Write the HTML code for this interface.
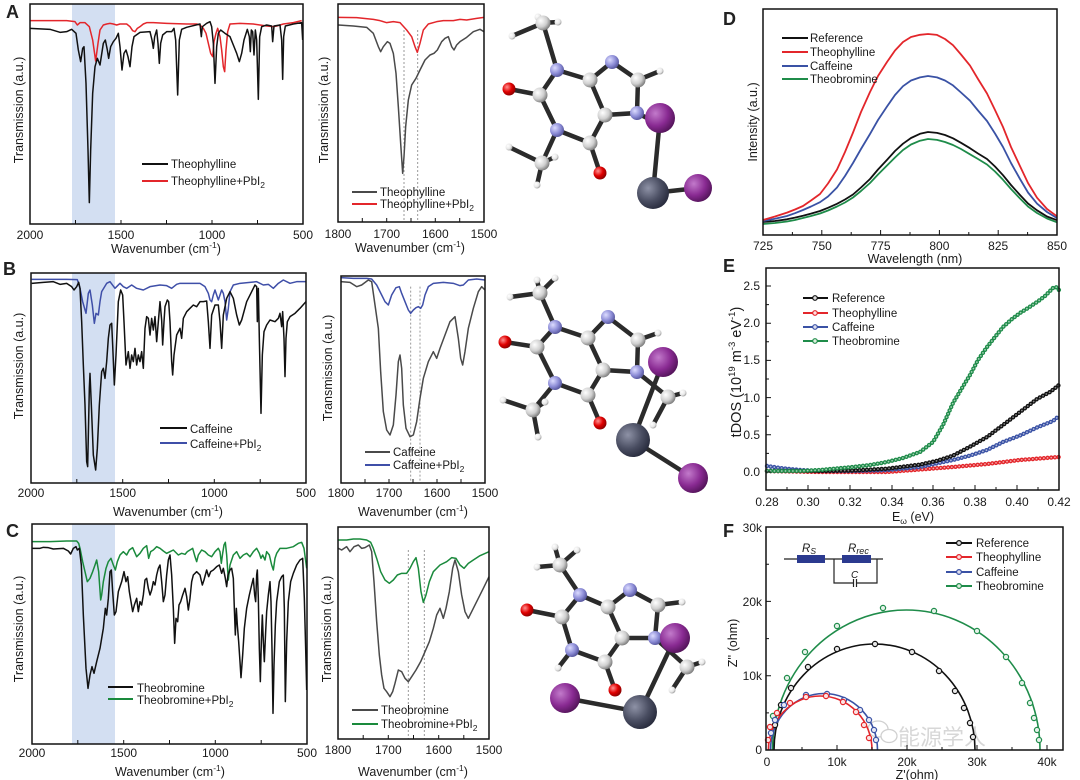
<!DOCTYPE html>
<html><head><meta charset="utf-8"><style>
html,body{margin:0;padding:0;background:#fff}
svg{display:block}
text{font-family:"Liberation Sans",Arial,sans-serif;fill:#1a1a1a}
.tk{font-size:12px}
.lb{font-size:12.5px}
.lg{font-size:11.5px}
.pl{font-size:18px;font-weight:bold;fill:#222}
.fr{fill:none;stroke:#111;stroke-width:1.5}
.tick{stroke:#111;stroke-width:1;fill:none}
.bd{stroke:#2b2b2b;stroke-width:4.5;stroke-linecap:round}
</style></head><body>
<svg width="1080" height="780" viewBox="0 0 1080 780" xmlns="http://www.w3.org/2000/svg">
<defs>
<radialGradient id="gC" cx="0.35" cy="0.35" r="0.75"><stop offset="0" stop-color="#ffffff"/><stop offset="0.55" stop-color="#cfcfcf"/><stop offset="1" stop-color="#6a6a6a"/></radialGradient>
<radialGradient id="gN" cx="0.35" cy="0.35" r="0.75"><stop offset="0" stop-color="#dcdcff"/><stop offset="0.55" stop-color="#8c8cd6"/><stop offset="1" stop-color="#4a4a90"/></radialGradient>
<radialGradient id="gO" cx="0.35" cy="0.35" r="0.75"><stop offset="0" stop-color="#ff9090"/><stop offset="0.5" stop-color="#e00000"/><stop offset="1" stop-color="#7a0000"/></radialGradient>
<radialGradient id="gH" cx="0.35" cy="0.35" r="0.75"><stop offset="0" stop-color="#ffffff"/><stop offset="0.6" stop-color="#e6e6e6"/><stop offset="1" stop-color="#8a8a8a"/></radialGradient>
<radialGradient id="gI" cx="0.35" cy="0.35" r="0.75"><stop offset="0" stop-color="#c27acb"/><stop offset="0.55" stop-color="#892a92"/><stop offset="1" stop-color="#4a1050"/></radialGradient>
<radialGradient id="gP" cx="0.35" cy="0.35" r="0.75"><stop offset="0" stop-color="#8e92a6"/><stop offset="0.55" stop-color="#4a4e62"/><stop offset="1" stop-color="#222536"/></radialGradient>
</defs>
<rect width="1080" height="780" fill="#fff"/>

<!-- ================= PANEL A LEFT ================= -->
<g transform="scale(0.33333)">
<rect x="216" y="12" width="129" height="660" fill="#d3dff2"/>
<polyline fill="none" stroke="#e3262b" stroke-width="4.5" stroke-linejoin="round" points="90,62 200,62 225,65 232,75 240,68 255,68 268,80 278,120 287,183 294,130 300,90 310,75 320,72 330,70 340,72 350,75 360,72 380,72 390,80 398,92 405,95 412,85 420,80 430,72 440,68 460,68 500,70 560,72 590,72 600,75 610,85 618,100 625,130 632,160 638,170 642,125 648,100 653,85 660,110 665,150 670,200 674,215 678,150 683,95 690,72 720,70 760,72 800,78 820,80 830,78 850,72 880,68 905,62"/>
<polyline fill="none" stroke="#111" stroke-width="4.5" stroke-linejoin="round" points="90,85 150,88 180,97 200,95 215,88 228,100 235,150 242,185 248,145 252,140 258,250 264,450 268,608 272,450 278,280 285,200 292,175 300,195 310,130 316,120 322,150 326,175 332,140 340,125 348,115 355,100 360,140 366,210 372,160 378,150 384,170 390,200 396,140 402,110 420,97 450,95 456,120 460,145 464,110 470,90 474,130 478,190 482,130 488,105 500,95 515,95 522,85 527,120 533,285 538,120 545,88 560,82 600,72 604,110 607,80 620,70 630,65 635,80 640,130 645,250 650,140 655,100 662,90 675,100 690,110 700,135 710,160 718,185 725,160 732,120 742,88 748,110 751,155 754,90 758,95 762,165 766,90 770,120 775,298 779,110 785,80 800,75 815,78 818,125 822,78 840,75 845,120 848,238 851,110 856,78 880,72 905,68 908,120"/>
</g>
<rect class="fr" x="30" y="4" width="273" height="220"/>
<path class="tick" d="M75.5,224v-4M121,224v-4M166.5,224v-4M212,224v-4M257.5,224v-4"/>
<text class="tk" x="30" y="239" text-anchor="middle">2000</text>
<text class="tk" x="121" y="239" text-anchor="middle">1500</text>
<text class="tk" x="212" y="239" text-anchor="middle">1000</text>
<text class="tk" x="303" y="239" text-anchor="middle">500</text>
<text class="lb" x="166" y="253" text-anchor="middle">Wavenumber (cm<tspan dy="-5" font-size="8.5">-1</tspan><tspan dy="5">)</tspan></text>
<text class="lb" transform="translate(23,110) rotate(-90)" text-anchor="middle">Transmission (a.u.)</text>
<line x1="142" y1="164" x2="168" y2="164" stroke="#111" stroke-width="2"/>
<line x1="142" y1="181" x2="168" y2="181" stroke="#e3262b" stroke-width="2"/>
<text class="lg" x="171" y="168">Theophylline</text>
<text class="lg" x="171" y="185">Theophylline+PbI<tspan dy="3" font-size="8.5">2</tspan></text>
<text class="pl" x="6" y="18">A</text>

<!-- ================= PANEL A MIDDLE ================= -->
<g transform="translate(310,0) scale(0.33333)">
<path d="M282,90V665M323,90V665" stroke="#9a9a9a" stroke-width="3" stroke-dasharray="6 6"/>
<polyline fill="none" stroke="#4a4a4a" stroke-width="4.5" stroke-linejoin="round" points="85,75 130,78 170,82 190,100 205,140 212,155 220,140 232,125 240,130 250,160 258,220 265,320 272,430 278,520 282,470 287,380 295,300 305,255 318,235 330,210 345,180 360,165 372,160 382,150 395,125 405,115 415,110 425,140 432,150 440,135 450,125 470,112 490,95 510,88 522,95"/>
<polyline fill="none" stroke="#e3262b" stroke-width="4.5" stroke-linejoin="round" points="85,52 140,53 190,58 210,62 230,68 250,65 270,68 290,90 305,110 315,140 322,157 330,130 340,90 355,72 380,65 400,62 430,62 450,58 470,60 500,55 522,52"/>
</g>
<rect class="fr" x="338" y="4" width="146" height="218"/>
<path class="tick" d="M362.3,222v-4M386.7,222v-4M411,222v-4M435.3,222v-4M459.7,222v-4"/>
<text class="tk" x="338" y="238" text-anchor="middle">1800</text>
<text class="tk" x="386.7" y="238" text-anchor="middle">1700</text>
<text class="tk" x="435.3" y="238" text-anchor="middle">1600</text>
<text class="tk" x="484" y="238" text-anchor="middle">1500</text>
<text class="lb" x="410" y="252" text-anchor="middle">Wavenumber (cm<tspan dy="-5" font-size="8.5">-1</tspan><tspan dy="5">)</tspan></text>
<text class="lb" transform="translate(328,110) rotate(-90)" text-anchor="middle">Transmission (a.u.)</text>
<line x1="352" y1="192" x2="377" y2="192" stroke="#4a4a4a" stroke-width="2"/>
<line x1="352" y1="204" x2="377" y2="204" stroke="#e3262b" stroke-width="2"/>
<text class="lg" x="380" y="196">Theophylline</text>
<text class="lg" x="380" y="208">Theophylline+PbI<tspan dy="3" font-size="8.5">2</tspan></text>

<!-- ================= MOLECULE A ================= -->
<g>
<g class="bd">
<line x1="543" y1="23" x2="512" y2="36"/><line x1="543" y1="23" x2="538" y2="17"/><line x1="543" y1="23" x2="558" y2="22"/>
<line x1="543" y1="23" x2="557" y2="70"/>
<line x1="557" y1="70" x2="540" y2="95"/><line x1="540" y1="95" x2="509" y2="89"/><line x1="540" y1="95" x2="557" y2="130"/>
<line x1="557" y1="130" x2="542" y2="163"/><line x1="542" y1="163" x2="509" y2="147"/><line x1="542" y1="163" x2="555" y2="157"/><line x1="542" y1="163" x2="537" y2="185"/>
<line x1="557" y1="130" x2="590" y2="143"/><line x1="590" y1="143" x2="600" y2="173"/><line x1="590" y1="143" x2="605" y2="115"/>
<line x1="605" y1="115" x2="590" y2="80"/><line x1="590" y1="80" x2="557" y2="70"/>
<line x1="590" y1="80" x2="612" y2="62"/><line x1="612" y1="62" x2="638" y2="80"/><line x1="638" y1="80" x2="660" y2="71"/>
<line x1="638" y1="80" x2="637" y2="113"/><line x1="637" y1="113" x2="605" y2="115"/><line x1="637" y1="113" x2="655" y2="122"/>
<line x1="660" y1="118" x2="653" y2="193"/><line x1="653" y1="193" x2="698" y2="188"/>
</g>
<circle cx="512" cy="36" r="3.5" fill="url(#gH)"/><circle cx="538" cy="17" r="3.5" fill="url(#gH)"/><circle cx="558" cy="22" r="3.5" fill="url(#gH)"/>
<circle cx="543" cy="23" r="7.5" fill="url(#gC)"/>
<circle cx="509" cy="147" r="3.5" fill="url(#gH)"/><circle cx="555" cy="157" r="3.5" fill="url(#gH)"/><circle cx="537" cy="185" r="3.5" fill="url(#gH)"/>
<circle cx="542" cy="163" r="7.5" fill="url(#gC)"/>
<circle cx="660" cy="71" r="3.5" fill="url(#gH)"/>
<circle cx="557" cy="70" r="7" fill="url(#gN)"/><circle cx="540" cy="95" r="7.5" fill="url(#gC)"/><circle cx="509" cy="89" r="6.5" fill="url(#gO)"/>
<circle cx="557" cy="130" r="7" fill="url(#gN)"/><circle cx="590" cy="143" r="7.5" fill="url(#gC)"/><circle cx="600" cy="173" r="6.5" fill="url(#gO)"/>
<circle cx="605" cy="115" r="7.5" fill="url(#gC)"/><circle cx="590" cy="80" r="7.5" fill="url(#gC)"/>
<circle cx="612" cy="62" r="7" fill="url(#gN)"/><circle cx="638" cy="80" r="7.5" fill="url(#gC)"/><circle cx="637" cy="113" r="7" fill="url(#gN)"/>
<circle cx="660" cy="118" r="15" fill="url(#gI)"/>
<circle cx="653" cy="193" r="16" fill="url(#gP)"/>
<circle cx="698" cy="188" r="14" fill="url(#gI)"/>
</g>

<!-- ================= PANEL B LEFT ================= -->
<g transform="translate(0,255) scale(0.33333)">
<rect x="216" y="55" width="129" height="630" fill="#d3dff2"/>
<polyline fill="none" stroke="#3f4fa8" stroke-width="4.5" stroke-linejoin="round" points="95,73 200,73 232,74 240,100 248,140 258,175 265,115 270,105 277,150 283,205 288,175 295,180 300,140 305,110 320,85 330,80 345,100 360,85 370,95 380,100 395,90 410,100 430,105 450,95 480,90 500,92 515,100 530,88 540,85 600,85 615,95 625,115 630,135 635,140 640,120 645,105 650,120 655,135 660,120 665,105 670,115 675,140 680,195 685,160 690,110 700,90 720,85 770,80 790,90 805,88 820,100 835,85 850,75 870,85 890,80 918,80"/>
<polyline fill="none" stroke="#111" stroke-width="4.5" stroke-linejoin="round" points="95,85 130,82 160,80 180,88 200,85 215,95 222,105 230,95 236,82 240,100 245,200 250,330 255,450 260,620 263,635 268,400 270,355 274,450 280,600 287,645 292,580 298,450 305,350 310,340 315,370 320,320 325,250 330,210 335,205 338,270 343,390 348,300 355,140 362,105 368,120 372,200 378,330 385,290 390,340 395,300 400,320 405,280 410,330 415,300 420,320 425,290 430,340 435,220 440,185 445,190 450,240 455,190 460,225 465,185 470,260 475,200 480,140 485,195 488,270 492,200 495,155 502,135 506,140 510,200 515,320 518,360 522,300 530,240 540,220 545,250 550,190 560,170 570,160 580,150 590,155 600,140 610,140 620,138 625,200 630,280 635,180 645,150 655,150 660,200 665,280 670,180 680,130 690,110 700,130 710,180 718,210 725,195 740,140 755,110 765,90 770,95 772,200 775,100 778,250 783,475 787,300 792,230 800,210 810,195 825,200 835,190 840,175 845,215 848,170 852,250 855,365 858,250 862,200 870,185 885,175 900,160 918,140"/>
</g>
<rect class="fr" x="31" y="273" width="275" height="210"/>
<path class="tick" d="M76.8,483v-4M122.7,483v-4M168.5,483v-4M214.3,483v-4M260.2,483v-4"/>
<text class="tk" x="31" y="497" text-anchor="middle">2000</text>
<text class="tk" x="122.7" y="497" text-anchor="middle">1500</text>
<text class="tk" x="214.3" y="497" text-anchor="middle">1000</text>
<text class="tk" x="306" y="497" text-anchor="middle">500</text>
<text class="lb" x="168" y="516" text-anchor="middle">Wavenumber (cm<tspan dy="-5" font-size="8.5">-1</tspan><tspan dy="5">)</tspan></text>
<text class="lb" transform="translate(23,366) rotate(-90)" text-anchor="middle">Transmission (a.u.)</text>
<line x1="160" y1="428" x2="187" y2="428" stroke="#111" stroke-width="2"/>
<line x1="160" y1="443" x2="187" y2="443" stroke="#3f4fa8" stroke-width="2"/>
<text class="lg" x="190" y="433">Caffeine</text>
<text class="lg" x="190" y="448">Caffeine+PbI<tspan dy="3" font-size="8.5">2</tspan></text>
<text class="pl" x="3" y="275">B</text>

<!-- ================= PANEL B MIDDLE ================= -->
<g transform="translate(310,255) scale(0.33333)">
<path d="M302,95V680M330,95V680" stroke="#9a9a9a" stroke-width="3" stroke-dasharray="6 6"/>
<polyline fill="none" stroke="#4a4a4a" stroke-width="4.5" stroke-linejoin="round" points="92,80 120,82 140,95 155,90 175,75 185,80 195,150 205,220 212,350 220,470 230,525 240,540 250,510 258,420 265,320 270,300 275,340 280,450 288,520 300,545 310,540 320,500 330,430 340,370 355,320 370,290 380,310 390,280 405,240 420,200 435,185 445,250 452,310 458,330 465,290 475,220 490,160 505,110 515,95 525,105"/>
<polyline fill="none" stroke="#3f4fa8" stroke-width="4.5" stroke-linejoin="round" points="92,68 130,70 170,70 185,72 200,90 215,120 225,140 235,150 245,120 258,98 268,95 275,115 285,140 295,165 302,175 310,165 318,158 325,155 332,160 338,150 345,120 355,95 370,85 400,82 430,85 450,92 460,90 475,75 500,72 525,75"/>
</g>
<rect class="fr" x="341" y="276" width="144" height="207"/>
<path class="tick" d="M365,483v-4M389,483v-4M413,483v-4M437,483v-4M461,483v-4"/>
<text class="tk" x="341" y="497" text-anchor="middle">1800</text>
<text class="tk" x="389" y="497" text-anchor="middle">1700</text>
<text class="tk" x="437" y="497" text-anchor="middle">1600</text>
<text class="tk" x="485" y="497" text-anchor="middle">1500</text>
<text class="lb" x="413" y="516" text-anchor="middle">Wavenumber (cm<tspan dy="-5" font-size="8.5">-1</tspan><tspan dy="5">)</tspan></text>
<text class="lb" transform="translate(332,368) rotate(-90)" text-anchor="middle">Transmission (a.u.)</text>
<line x1="365" y1="452" x2="390" y2="452" stroke="#4a4a4a" stroke-width="2"/>
<line x1="365" y1="465" x2="390" y2="465" stroke="#3f4fa8" stroke-width="2"/>
<text class="lg" x="393" y="456">Caffeine</text>
<text class="lg" x="393" y="469">Caffeine+PbI<tspan dy="3" font-size="8.5">2</tspan></text>

<!-- ================= MOLECULE B ================= -->
<g>
<g class="bd">
<line x1="540" y1="293" x2="510" y2="297"/><line x1="540" y1="293" x2="537" y2="280"/><line x1="540" y1="293" x2="555" y2="278"/>
<line x1="540" y1="293" x2="555" y2="327"/>
<line x1="555" y1="327" x2="537" y2="347"/><line x1="537" y1="347" x2="505" y2="342"/><line x1="537" y1="347" x2="555" y2="383"/>
<line x1="555" y1="383" x2="533" y2="410"/><line x1="533" y1="410" x2="503" y2="400"/><line x1="533" y1="410" x2="545" y2="402"/><line x1="533" y1="410" x2="538" y2="437"/>
<line x1="555" y1="383" x2="588" y2="395"/><line x1="588" y1="395" x2="600" y2="423"/><line x1="588" y1="395" x2="603" y2="370"/>
<line x1="603" y1="370" x2="588" y2="338"/><line x1="588" y1="338" x2="555" y2="327"/>
<line x1="588" y1="338" x2="608" y2="317"/><line x1="608" y1="317" x2="638" y2="340"/><line x1="638" y1="340" x2="658" y2="333"/>
<line x1="638" y1="340" x2="637" y2="372"/><line x1="637" y1="372" x2="603" y2="370"/>
<line x1="637" y1="372" x2="668" y2="397"/><line x1="668" y1="397" x2="683" y2="393"/><line x1="668" y1="397" x2="653" y2="425"/>
<line x1="663" y1="362" x2="633" y2="440"/><line x1="633" y1="440" x2="693" y2="478"/>
</g>
<circle cx="510" cy="297" r="3.5" fill="url(#gH)"/><circle cx="537" cy="280" r="3.5" fill="url(#gH)"/><circle cx="555" cy="278" r="3.5" fill="url(#gH)"/>
<circle cx="540" cy="293" r="7.5" fill="url(#gC)"/>
<circle cx="503" cy="400" r="3.5" fill="url(#gH)"/><circle cx="545" cy="402" r="3.5" fill="url(#gH)"/><circle cx="538" cy="437" r="3.5" fill="url(#gH)"/>
<circle cx="533" cy="410" r="7.5" fill="url(#gC)"/>
<circle cx="658" cy="333" r="3.5" fill="url(#gH)"/>
<circle cx="555" cy="327" r="7" fill="url(#gN)"/><circle cx="537" cy="347" r="7.5" fill="url(#gC)"/><circle cx="505" cy="342" r="6.5" fill="url(#gO)"/>
<circle cx="555" cy="383" r="7" fill="url(#gN)"/><circle cx="588" cy="395" r="7.5" fill="url(#gC)"/><circle cx="600" cy="423" r="6.5" fill="url(#gO)"/>
<circle cx="603" cy="370" r="7.5" fill="url(#gC)"/><circle cx="588" cy="338" r="7.5" fill="url(#gC)"/>
<circle cx="608" cy="317" r="7" fill="url(#gN)"/><circle cx="638" cy="340" r="7.5" fill="url(#gC)"/><circle cx="637" cy="372" r="7" fill="url(#gN)"/>
<circle cx="663" cy="362" r="15" fill="url(#gI)"/>
<circle cx="683" cy="393" r="3.5" fill="url(#gH)"/><circle cx="653" cy="425" r="3.5" fill="url(#gH)"/>
<circle cx="668" cy="397" r="7.5" fill="url(#gC)"/>
<circle cx="633" cy="440" r="17" fill="url(#gP)"/>
<circle cx="693" cy="478" r="15" fill="url(#gI)"/>
</g>

<!-- ================= PANEL C LEFT ================= -->
<g transform="translate(0,515) scale(0.33333)">
<rect x="216" y="28" width="129" height="660" fill="#d3dff2"/>
<polyline fill="none" stroke="#1a8a3c" stroke-width="4.5" stroke-linejoin="round" points="97,80 150,80 200,78 230,78 236,85 240,100 248,140 255,170 262,200 270,190 278,170 285,150 290,135 296,170 302,255 305,240 310,200 318,160 325,140 333,130 340,150 346,165 352,140 360,120 370,110 380,120 388,105 398,98 410,125 420,115 430,100 440,92 446,130 452,110 460,105 470,95 480,100 490,108 500,115 510,110 520,105 535,120 545,115 555,118 562,110 570,105 578,100 585,125 590,140 595,120 605,105 615,110 625,120 635,125 645,110 655,100 660,110 664,145 668,115 672,90 676,82 680,120 685,195 690,150 700,120 710,110 720,130 730,120 740,115 750,125 760,110 770,100 778,115 783,130 788,120 795,135 800,110 808,120 815,150 820,165 825,130 830,115 840,100 860,100 880,95 895,85 905,82 912,100 920,160"/>
<polyline fill="none" stroke="#111" stroke-width="4.5" stroke-linejoin="round" points="97,100 120,100 130,97 145,98 160,102 190,100 205,108 212,117 220,100 228,95 232,105 238,100 244,150 250,300 258,460 264,520 270,480 276,455 282,475 290,440 300,400 310,340 316,280 320,300 325,250 330,170 334,165 338,230 343,300 348,290 355,230 365,200 372,170 378,200 383,185 388,230 393,260 398,290 403,270 410,250 415,290 420,260 425,270 430,240 435,195 440,190 445,220 450,240 455,225 460,200 465,210 470,180 475,160 480,150 485,200 490,260 495,240 500,180 505,135 510,120 515,180 520,280 524,385 528,310 533,320 537,270 542,260 548,240 555,220 560,245 565,285 570,250 575,200 580,180 590,170 600,180 607,210 612,195 620,165 626,185 632,170 640,165 650,155 658,150 665,175 670,160 676,190 680,215 684,180 690,165 695,160 700,190 703,280 706,360 709,280 712,330 716,380 720,440 723,488 728,420 733,340 740,280 748,240 755,210 760,190 764,240 767,260 770,180 772,165 775,250 778,400 781,500 784,380 787,300 790,380 793,440 797,350 800,290 805,240 810,200 813,260 816,400 819,595 822,450 826,330 830,260 838,200 845,185 850,180 853,280 856,560 860,380 865,260 872,200 880,175 890,150 900,135 908,130 913,250 917,400 920,525"/>
</g>
<rect class="fr" x="32" y="524" width="275" height="220"/>
<path class="tick" d="M77.8,744v-4M123.7,744v-4M169.5,744v-4M215.3,744v-4M261.2,744v-4"/>
<text class="tk" x="32" y="757" text-anchor="middle">2000</text>
<text class="tk" x="123.7" y="757" text-anchor="middle">1500</text>
<text class="tk" x="215.3" y="757" text-anchor="middle">1000</text>
<text class="tk" x="307" y="757" text-anchor="middle">500</text>
<text class="lb" x="170" y="776" text-anchor="middle">Wavenumber (cm<tspan dy="-5" font-size="8.5">-1</tspan><tspan dy="5">)</tspan></text>
<text class="lb" transform="translate(23,629) rotate(-90)" text-anchor="middle">Transmission (a.u.)</text>
<line x1="108" y1="687" x2="133" y2="687" stroke="#111" stroke-width="2"/>
<line x1="108" y1="699" x2="133" y2="699" stroke="#1a8a3c" stroke-width="2"/>
<text class="lg" x="137" y="692">Theobromine</text>
<text class="lg" x="137" y="704">Theobromine+PbI<tspan dy="3" font-size="8.5">2</tspan></text>
<text class="pl" x="6" y="537">C</text>

<!-- ================= PANEL C MIDDLE ================= -->
<g transform="translate(310,515) scale(0.33333)">
<path d="M295,105V670M343,105V670" stroke="#9a9a9a" stroke-width="3" stroke-dasharray="6 6"/>
<polyline fill="none" stroke="#4a4a4a" stroke-width="4.5" stroke-linejoin="round" points="85,100 95,105 110,95 120,110 132,95 145,90 155,100 165,98 178,90 185,110 192,200 200,320 208,420 215,480 222,520 230,530 240,545 248,530 255,505 265,465 275,470 285,490 295,500 305,485 318,465 332,440 345,410 358,380 370,340 380,300 390,280 400,310 408,280 418,230 428,160 435,135 445,170 455,240 465,290 475,310 490,280 505,250 520,220 537,185"/>
<polyline fill="none" stroke="#1a8a3c" stroke-width="4.5" stroke-linejoin="round" points="85,75 110,75 130,72 150,72 170,75 182,82 190,100 200,130 212,170 225,195 238,205 250,195 262,180 275,175 290,175 300,160 310,140 318,128 325,160 333,230 340,262 348,240 358,200 370,170 390,150 410,140 425,128 438,130 450,150 462,160 475,145 490,135 510,122 537,110"/>
</g>
<rect class="fr" x="338" y="527" width="151" height="212"/>
<path class="tick" d="M363.2,739v-4M388.3,739v-4M413.5,739v-4M438.7,739v-4M463.8,739v-4"/>
<text class="tk" x="338" y="754" text-anchor="middle">1800</text>
<text class="tk" x="388.3" y="754" text-anchor="middle">1700</text>
<text class="tk" x="438.7" y="754" text-anchor="middle">1600</text>
<text class="tk" x="489" y="754" text-anchor="middle">1500</text>
<text class="lb" x="413" y="776" text-anchor="middle">Wavenumber (cm<tspan dy="-5" font-size="8.5">-1</tspan><tspan dy="5">)</tspan></text>
<text class="lb" transform="translate(331,629) rotate(-90)" text-anchor="middle">Transmission (a.u.)</text>
<line x1="352" y1="710" x2="378" y2="710" stroke="#4a4a4a" stroke-width="2"/>
<line x1="352" y1="724" x2="378" y2="724" stroke="#1a8a3c" stroke-width="2"/>
<text class="lg" x="381" y="714">Theobromine</text>
<text class="lg" x="381" y="728">Theobromine+PbI<tspan dy="3" font-size="8.5">2</tspan></text>

<!-- ================= MOLECULE C ================= -->
<g>
<g class="bd">
<line x1="560" y1="565" x2="537" y2="567"/><line x1="560" y1="565" x2="555" y2="547"/><line x1="560" y1="565" x2="577" y2="550"/>
<line x1="560" y1="565" x2="580" y2="595"/>
<line x1="580" y1="595" x2="562" y2="617"/><line x1="562" y1="617" x2="527" y2="610"/><line x1="562" y1="617" x2="572" y2="650"/>
<line x1="572" y1="650" x2="558" y2="668"/><line x1="572" y1="650" x2="605" y2="662"/><line x1="605" y1="662" x2="615" y2="690"/>
<line x1="605" y1="662" x2="622" y2="638"/><line x1="622" y1="638" x2="608" y2="607"/><line x1="608" y1="607" x2="580" y2="595"/>
<line x1="608" y1="607" x2="630" y2="590"/><line x1="630" y1="590" x2="658" y2="605"/><line x1="658" y1="605" x2="682" y2="602"/>
<line x1="658" y1="605" x2="655" y2="638"/><line x1="655" y1="638" x2="622" y2="638"/>
<line x1="655" y1="638" x2="687" y2="667"/><line x1="687" y1="667" x2="702" y2="662"/><line x1="687" y1="667" x2="672" y2="690"/>
<line x1="675" y1="638" x2="640" y2="712"/><line x1="640" y1="712" x2="565" y2="698"/>
</g>
<circle cx="537" cy="567" r="3.5" fill="url(#gH)"/><circle cx="555" cy="547" r="3.5" fill="url(#gH)"/><circle cx="577" cy="550" r="3.5" fill="url(#gH)"/>
<circle cx="560" cy="565" r="7.5" fill="url(#gC)"/>
<circle cx="558" cy="668" r="3.5" fill="url(#gH)"/><circle cx="682" cy="602" r="3.5" fill="url(#gH)"/>
<circle cx="580" cy="595" r="7" fill="url(#gN)"/><circle cx="562" cy="617" r="7.5" fill="url(#gC)"/><circle cx="527" cy="610" r="6.5" fill="url(#gO)"/>
<circle cx="572" cy="650" r="7" fill="url(#gN)"/><circle cx="605" cy="662" r="7.5" fill="url(#gC)"/><circle cx="615" cy="690" r="6.5" fill="url(#gO)"/>
<circle cx="622" cy="638" r="7.5" fill="url(#gC)"/><circle cx="608" cy="607" r="7.5" fill="url(#gC)"/>
<circle cx="630" cy="590" r="7" fill="url(#gN)"/><circle cx="658" cy="605" r="7.5" fill="url(#gC)"/><circle cx="655" cy="638" r="7" fill="url(#gN)"/>
<circle cx="675" cy="638" r="15" fill="url(#gI)"/>
<circle cx="702" cy="662" r="3.5" fill="url(#gH)"/><circle cx="672" cy="690" r="3.5" fill="url(#gH)"/>
<circle cx="687" cy="667" r="7.5" fill="url(#gC)"/>
<circle cx="565" cy="698" r="15" fill="url(#gI)"/>
<circle cx="640" cy="712" r="17" fill="url(#gP)"/>
</g>

<!-- ================= PANEL D ================= -->
<g fill="none" stroke-width="1.8" stroke-linejoin="round">
<polyline stroke="#1f8c4a" points="763,224 775,223 787,221.5 795,220 803,218 811,216 820,213.5 828,210.5 837,206.5 845,202.5 853,197.5 861,191 870,183 878,174.5 887,165.5 895,157.5 903,150 911,144.5 920,140.7 928,139 937,139.9 945,142 953,145 961,149 970,154.3 978,159 987,164.5 995,171.5 1003,179.8 1011,189 1020,198.5 1028,206.5 1037,213 1047,218.5 1057,222.3"/>
<polyline stroke="#111" points="763,222 775,221 787,219.3 795,217.6 803,215.7 811,213.6 820,211 828,207.8 837,203.8 845,199.5 853,194.5 861,187.5 870,179 878,169.5 887,159.9 895,151 903,143.7 911,138 920,133.8 928,132 937,132.9 945,135 953,138.3 961,142.8 970,148.2 978,153.5 987,159 995,166.5 1003,175.2 1011,185 1020,195 1028,203.5 1037,210.3 1047,216.5 1057,220.2"/>
<polyline stroke="#3a52a5" points="763,221 775,218.8 787,216 795,213.2 803,210 811,206.5 820,202.2 828,196.5 837,187.5 845,176 853,163 861,149 870,134 878,120 887,106.5 895,95 903,86.2 911,80.5 920,77.4 928,76 937,77.4 945,80.5 953,85.4 961,92.5 970,100.7 978,110.5 987,121 995,133.5 1003,147 1011,163 1020,179 1028,192.5 1037,203.6 1047,212 1057,218.1"/>
<polyline stroke="#e3262b" points="763,220 775,216.5 787,212.6 795,209.5 803,206 811,200.5 820,194 828,183.5 837,169.5 845,152 853,132.6 861,112 870,92 878,76 887,62 895,50.5 903,42 911,37 920,34.8 928,34 937,34.9 945,39 953,45.2 961,54.5 970,65.6 978,79 987,93.5 995,110 1003,127 1011,147 1020,166.1 1028,183 1037,197.7 1047,209 1057,216.3"/>
</g>
<rect class="fr" x="763" y="9" width="294" height="226"/>
<path class="tick" d="M792.4,235v-3M821.8,235v-5M851.2,235v-3M880.6,235v-5M910,235v-3M939.4,235v-5M968.8,235v-3M998.2,235v-5M1027.6,235v-3"/>
<text class="tk" x="763" y="250" text-anchor="middle">725</text>
<text class="tk" x="821.8" y="250" text-anchor="middle">750</text>
<text class="tk" x="880.6" y="250" text-anchor="middle">775</text>
<text class="tk" x="939.4" y="250" text-anchor="middle">800</text>
<text class="tk" x="998.2" y="250" text-anchor="middle">825</text>
<text class="tk" x="1057" y="250" text-anchor="middle">850</text>
<text class="lb" x="915" y="263" text-anchor="middle">Wavelength (nm)</text>
<text class="lb" transform="translate(757,122) rotate(-90)" text-anchor="middle">Intensity (a.u.)</text>
<line x1="782" y1="38" x2="808" y2="38" stroke="#111" stroke-width="2"/>
<line x1="782" y1="52" x2="808" y2="52" stroke="#e3262b" stroke-width="2"/>
<line x1="782" y1="66" x2="808" y2="66" stroke="#3a52a5" stroke-width="2"/>
<line x1="782" y1="79" x2="808" y2="79" stroke="#1f8c4a" stroke-width="2"/>
<text class="lg" x="810" y="42">Reference</text>
<text class="lg" x="810" y="56">Theophylline</text>
<text class="lg" x="810" y="70">Caffeine</text>
<text class="lg" x="810" y="83">Theobromine</text>
<text class="pl" x="723" y="25">D</text>

<!-- ================= PANEL E ================= -->
<g fill="none" stroke-linejoin="round" stroke-linecap="round">
<g stroke="#e3262b">
<path d="M767,471 L820,472 L887,472 L920,469.5 L953,467 L987,464 L1020,460 L1059,457" stroke-width="1"/>
<path d="M767,471 L820,472 L887,472 L920,469.5 L953,467 L987,464 L1020,460 L1059,457" stroke-width="4.4" stroke-dasharray="0 3.7"/>
<path d="M767,471 L820,472 L887,472 L920,469.5 L953,467 L987,464 L1020,460 L1059,457" stroke="#fff" stroke-opacity="0.6" stroke-width="1.8" stroke-dasharray="0 3.7"/>
</g>
<g stroke="#3a52a5">
<path d="M767,466 L780,468 L800,470 L820,471 L853,471 L887,470 L920,467 L953,460 L970,455.6 L987,450 L1003,442 L1020,435.5 L1037,427.5 L1053,421 L1059,416" stroke-width="1"/>
<path d="M767,466 L780,468 L800,470 L820,471 L853,471 L887,470 L920,467 L953,460 L970,455.6 L987,450 L1003,442 L1020,435.5 L1037,427.5 L1053,421 L1059,416" stroke-width="4.4" stroke-dasharray="0 3.7"/>
<path d="M767,466 L780,468 L800,470 L820,471 L853,471 L887,470 L920,467 L953,460 L970,455.6 L987,450 L1003,442 L1020,435.5 L1037,427.5 L1053,421 L1059,416" stroke="#fff" stroke-opacity="0.6" stroke-width="1.8" stroke-dasharray="0 3.7"/>
</g>
<g stroke="#111">
<path d="M767,471 L820,471 L853,470.5 L887,468.7 L920,464.6 L937,460.8 L953,455.6 L970,446.7 L987,437 L1003,425 L1020,412 L1037,399 L1050,392 L1059,385" stroke-width="1"/>
<path d="M767,471 L820,471 L853,470.5 L887,468.7 L920,464.6 L937,460.8 L953,455.6 L970,446.7 L987,437 L1003,425 L1020,412 L1037,399 L1050,392 L1059,385" stroke-width="4.4" stroke-dasharray="0 3.7"/>
<path d="M767,471 L820,471 L853,470.5 L887,468.7 L920,464.6 L937,460.8 L953,455.6 L970,446.7 L987,437 L1003,425 L1020,412 L1037,399 L1050,392 L1059,385" stroke="#fff" stroke-opacity="0.5" stroke-width="1.8" stroke-dasharray="0 3.7"/>
</g>
<g stroke="#1f8c4a">
<path d="M767,471 L800,471 L820,470 L853,467 L870,465 L887,462 L903,458 L920,452 L933,442 L943,425 L953,403 L962,388 L970,375 L978,360 L987,347 L995,337 L1003,327 L1012,319 L1020,313 L1028,308 L1037,302 L1045,296 L1053,288 L1056,287 L1059,290" stroke-width="1"/>
<path d="M767,471 L800,471 L820,470 L853,467 L870,465 L887,462 L903,458 L920,452 L933,442 L943,425 L953,403 L962,388 L970,375 L978,360 L987,347 L995,337 L1003,327 L1012,319 L1020,313 L1028,308 L1037,302 L1045,296 L1053,288 L1056,287 L1059,290" stroke-width="4.4" stroke-dasharray="0 3.7"/>
<path d="M767,471 L800,471 L820,470 L853,467 L870,465 L887,462 L903,458 L920,452 L933,442 L943,425 L953,403 L962,388 L970,375 L978,360 L987,347 L995,337 L1003,327 L1012,319 L1020,313 L1028,308 L1037,302 L1045,296 L1053,288 L1056,287 L1059,290" stroke="#fff" stroke-opacity="0.6" stroke-width="1.8" stroke-dasharray="0 3.7"/>
</g>
</g>
<rect class="fr" x="766" y="268" width="293" height="222"/>
<path class="tick" d="M787,490v-3M808,490v-5M829,490v-3M850,490v-5M871,490v-3M892,490v-5M913,490v-3M933,490v-5M954,490v-3M975,490v-5M996,490v-3M1017,490v-5M1038,490v-3"/>
<path class="tick" d="M766,472h5M766,453.4h3M766,434.8h5M766,416.2h3M766,397.6h5M766,379h3M766,360.4h5M766,341.8h3M766,323.2h5M766,304.6h3M766,286h5"/>
<text class="tk" x="760" y="476" text-anchor="end">0.0</text>
<text class="tk" x="760" y="439" text-anchor="end">0.5</text>
<text class="tk" x="760" y="402" text-anchor="end">1.0</text>
<text class="tk" x="760" y="364" text-anchor="end">1.5</text>
<text class="tk" x="760" y="327" text-anchor="end">2.0</text>
<text class="tk" x="760" y="290" text-anchor="end">2.5</text>
<text class="tk" x="767" y="506" text-anchor="middle">0.28</text>
<text class="tk" x="808" y="506" text-anchor="middle">0.30</text>
<text class="tk" x="850" y="506" text-anchor="middle">0.32</text>
<text class="tk" x="892" y="506" text-anchor="middle">0.34</text>
<text class="tk" x="933" y="506" text-anchor="middle">0.36</text>
<text class="tk" x="975" y="506" text-anchor="middle">0.38</text>
<text class="tk" x="1017" y="506" text-anchor="middle">0.40</text>
<text class="tk" x="1059" y="506" text-anchor="middle">0.42</text>
<text class="lb" x="913" y="521" text-anchor="middle">E<tspan dy="3" font-size="8.5">ω</tspan><tspan dy="-3"> (eV)</tspan></text>
<text transform="translate(741,372) rotate(-90)" text-anchor="middle" font-size="14.5">tDOS (10<tspan dy="-6" font-size="9.5">19</tspan><tspan dy="6"> m</tspan><tspan dy="-6" font-size="9.5">-3</tspan><tspan dy="6"> eV</tspan><tspan dy="-6" font-size="9.5">-1</tspan><tspan dy="6">)</tspan></text>
<g stroke-width="2">
<line x1="803" y1="298" x2="828" y2="298" stroke="#111"/><circle cx="815" cy="298" r="2.3" fill="#ddd" stroke="#111" stroke-width="1.2"/>
<line x1="803" y1="313" x2="828" y2="313" stroke="#e3262b"/><circle cx="815" cy="313" r="2.3" fill="#fdd" stroke="#e3262b" stroke-width="1.2"/>
<line x1="803" y1="327" x2="828" y2="327" stroke="#3a52a5"/><circle cx="815" cy="327" r="2.3" fill="#dde" stroke="#3a52a5" stroke-width="1.2"/>
<line x1="803" y1="341" x2="828" y2="341" stroke="#1f8c4a"/><circle cx="815" cy="341" r="2.3" fill="#ded" stroke="#1f8c4a" stroke-width="1.2"/>
</g>
<text class="lg" x="832" y="302">Reference</text>
<text class="lg" x="832" y="317">Theophylline</text>
<text class="lg" x="832" y="331">Caffeine</text>
<text class="lg" x="832" y="345">Theobromine</text>
<text class="pl" x="723" y="272">E</text>

<!-- ================= PANEL F ================= -->
<g opacity="0.55">
<ellipse cx="878" cy="729" rx="10" ry="8" fill="none" stroke="#aaa" stroke-width="1.3"/>
<ellipse cx="889" cy="736" rx="8" ry="6.5" fill="#fff" stroke="#aaa" stroke-width="1.3"/>
<text x="898" y="745" font-size="22" style="font-family:'Liberation Sans','Noto Sans CJK SC',sans-serif;fill:#b8b8b8">能源学人</text>
</g>
<g fill="none" stroke-width="1.6">
<path d="M772.6,750 A133.7,140 0 0 1 1040,750" stroke="#1f8c4a"/>
<path d="M774,750 A100.5,106 0 0 1 975,750" stroke="#111"/>
<path d="M770.5,750 A53.5,56.5 0 0 1 877.5,750" stroke="#3a52a5"/>
<path d="M768.4,750 A51.8,54 0 0 1 872,750" stroke="#e3262b"/>
</g>
<g stroke-width="1.2">
<g fill="#e6f2ea" stroke="#1f8c4a">
<circle cx="773" cy="716" r="2.6"/><circle cx="787" cy="678" r="2.6"/><circle cx="805" cy="652" r="2.6"/><circle cx="837" cy="626" r="2.6"/><circle cx="883" cy="608" r="2.6"/><circle cx="934" cy="611" r="2.6"/><circle cx="977" cy="631" r="2.6"/><circle cx="1006" cy="657" r="2.6"/><circle cx="1022" cy="683" r="2.6"/><circle cx="1030" cy="703" r="2.6"/><circle cx="1034" cy="718" r="2.6"/><circle cx="1037" cy="730" r="2.6"/><circle cx="1039" cy="740" r="2.6"/>
</g>
<g fill="#e8e8e8" stroke="#111">
<circle cx="775" cy="725" r="2.6"/><circle cx="781" cy="705" r="2.6"/><circle cx="791" cy="688" r="2.6"/><circle cx="808" cy="667" r="2.6"/><circle cx="837" cy="649" r="2.6"/><circle cx="875" cy="644" r="2.6"/><circle cx="912" cy="652" r="2.6"/><circle cx="939" cy="671" r="2.6"/><circle cx="955" cy="691" r="2.6"/><circle cx="964" cy="708" r="2.6"/><circle cx="970" cy="723" r="2.6"/><circle cx="973" cy="737" r="2.6"/>
</g>
<g fill="#e6e8f4" stroke="#3a52a5">
<circle cx="771" cy="733" r="2.6"/><circle cx="775" cy="720" r="2.6"/><circle cx="784" cy="705" r="2.6"/><circle cx="806" cy="695" r="2.6"/><circle cx="827" cy="694" r="2.6"/><circle cx="844" cy="700" r="2.6"/><circle cx="860" cy="710" r="2.6"/><circle cx="869" cy="720" r="2.6"/><circle cx="874" cy="730" r="2.6"/><circle cx="876" cy="740" r="2.6"/>
</g>
<g fill="#fbe4e4" stroke="#e3262b">
<circle cx="768" cy="740" r="2.6"/><circle cx="770" cy="727" r="2.6"/><circle cx="777" cy="713" r="2.6"/><circle cx="790" cy="703" r="2.6"/><circle cx="806" cy="697" r="2.6"/><circle cx="826" cy="696" r="2.6"/><circle cx="843" cy="702" r="2.6"/><circle cx="856" cy="712" r="2.6"/><circle cx="864" cy="725" r="2.6"/><circle cx="869" cy="738" r="2.6"/>
</g>
</g>
<rect class="fr" x="766" y="527" width="297" height="223"/>
<path class="tick" d="M802,750v-3M837,750v-5M872,750v-3M907,750v-5M942,750v-3M977,750v-5M1012,750v-3M1047,750v-5"/>
<path class="tick" d="M766,712.9h3M766,675.7h5M766,638.6h3M766,601.4h5M766,564.3h3"/>
<text class="tk" x="762" y="532" text-anchor="end">30k</text>
<text class="tk" x="762" y="606" text-anchor="end">20k</text>
<text class="tk" x="762" y="680" text-anchor="end">10k</text>
<text class="tk" x="762" y="754" text-anchor="end">0</text>
<text class="tk" x="767" y="766" text-anchor="middle">0</text>
<text class="tk" x="837" y="766" text-anchor="middle">10k</text>
<text class="tk" x="907" y="766" text-anchor="middle">20k</text>
<text class="tk" x="977" y="766" text-anchor="middle">30k</text>
<text class="tk" x="1047" y="766" text-anchor="middle">40k</text>
<text class="lb" x="917" y="779" text-anchor="middle">Z'(ohm)</text>
<text class="lb" transform="translate(737,643) rotate(-90)" text-anchor="middle">Z'' (ohm)</text>
<g stroke="#222" stroke-width="1.2" fill="none">
<path d="M784,559H797M825,559H842M871,559H883"/>
<path d="M834,559V583H853.5M856.5,583H877V559"/>
<path d="M853.5,579V587M856.5,579V587"/>
</g>
<rect x="797" y="555" width="28" height="8" fill="#2b3a8f"/>
<rect x="842" y="555" width="29" height="8" fill="#2b3a8f"/>
<text x="802" y="552" font-size="11.5" font-style="italic">R<tspan dy="2" font-size="8.5">S</tspan></text>
<text x="848" y="552" font-size="11.5" font-style="italic">R<tspan dy="2" font-size="9">rec</tspan></text>
<text x="851" y="578" font-size="10" font-style="italic">C</text>
<g stroke-width="2">
<line x1="946" y1="543" x2="972" y2="543" stroke="#111"/><circle cx="959" cy="543" r="2.4" fill="#ddd" stroke="#111" stroke-width="1.2"/>
<line x1="946" y1="557" x2="972" y2="557" stroke="#e3262b"/><circle cx="959" cy="557" r="2.4" fill="#fdd" stroke="#e3262b" stroke-width="1.2"/>
<line x1="946" y1="572" x2="972" y2="572" stroke="#3a52a5"/><circle cx="959" cy="572" r="2.4" fill="#dde" stroke="#3a52a5" stroke-width="1.2"/>
<line x1="946" y1="586" x2="972" y2="586" stroke="#1f8c4a"/><circle cx="959" cy="586" r="2.4" fill="#ded" stroke="#1f8c4a" stroke-width="1.2"/>
</g>
<text class="lg" x="976" y="547">Reference</text>
<text class="lg" x="976" y="561">Theophylline</text>
<text class="lg" x="976" y="576">Caffeine</text>
<text class="lg" x="976" y="590">Theobromine</text>
<text class="pl" x="723" y="537">F</text>
</svg>
</body></html>
